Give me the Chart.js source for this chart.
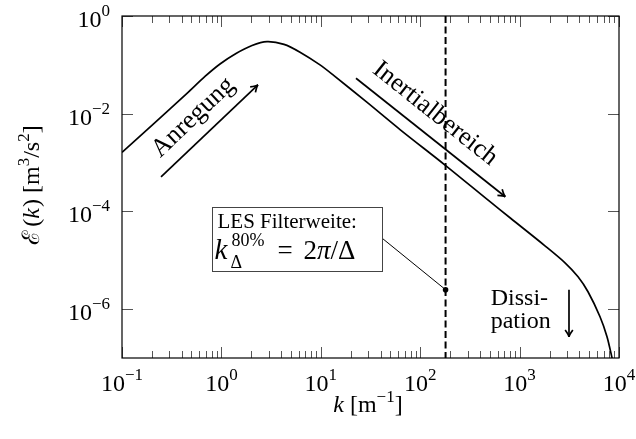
<!DOCTYPE html>
<html>
<head>
<meta charset="utf-8">
<script src="https://cdn.jsdelivr.net/npm/chart.js@4.4.1/dist/chart.umd.min.js"></script>
<style>
  html, body { margin: 0; padding: 0; background: #fff; }
  #wrap { width: 636px; height: 439px; }
</style>
</head>
<body>
<div id="wrap"><canvas id="spectrum" width="636" height="439"></canvas></div>
<script>
// Energy spectrum E(k)
const kValues = [0.1, 0.2051, 0.4508, 0.6839, 0.9683, 1.403, 2.032, 2.877, 4.266, 6.18, 9.817, 13.37, 28.84, 63.1,
  177.8, 489.8, 818, 1799, 2864, 3873, 4877, 6442, 7575, 8505, 9120];
const eValues = [1.62e-3, 6.05e-3, 0.026, 0.0579, 0.1042, 0.171, 0.2495, 0.2985, 0.263, 0.182, 0.100, 0.0617, 0.0174, 4.68e-3,
  8.9e-4, 1.66e-4, 7.16e-5, 1.98e-5, 8.89e-6, 4.6e-6, 2.27e-6, 7.0e-7, 2.73e-7, 1.01e-7, 5.2e-8];

// axes
const xMajorTicks = [0.1, 1, 10, 100, 1000, 10000];
const xTickExponents = ['\u22121', '0', '1', '2', '3', '4'];
const yMajorTicks = [1, 1e-2, 1e-4, 1e-6];
const yTickExponents = ['0', '\u22122', '\u22124', '\u22126'];
const xMin = 0.1, xMax = 1e4, yMin = 1e-7, yMax = 1;

// annotations, in data coordinates
const filterK = 180;
const filterDotE = 2.5e-6;
const excitationArrow = [[0.247, 5.1e-4], [2.33, 0.039]];
const excitationLabel = [0.52, 8.4e-3];
const inertialArrow = [[22.6, 0.0532], [718, 2.0e-4]];
const inertialLabel = [141, 0.0100];
const dissipationArrow = [[3140, 2.5e-6], [3140, 2.7e-7]];
const dissipationLabel = [512, 1.23e-6];
const filterBoxCorner = [0.804, 1.24e-4];

const SERIF = '"Liberation Serif", "DejaVu Serif", serif';

function fontOf(r) {
  return (r.italic ? 'italic ' : '') + r.size + 'px ' + SERIF;
}
function run(t, size, opts) {
  return Object.assign({ t: t, size: size, dy: 0 }, opts || {});
}
// draw a row of text pieces (superscripts etc.)
function drawRuns(ctx, runs, x, y, align) {
  let total = 0;
  runs.forEach(r => { ctx.font = fontOf(r); r.w = ctx.measureText(r.t).width + (r.gap || 0); total += r.w; });
  let cx = align === 'center' ? x - total / 2 : align === 'right' ? x - total : x;
  runs.forEach(r => {
    ctx.font = fontOf(r);
    ctx.fillText(r.t, cx, y + r.dy);
    cx += r.w;
  });
}

function arrow(ctx, x1, y1, x2, y2) {
  const a = Math.atan2(y2 - y1, x2 - x1);
  ctx.beginPath();
  ctx.moveTo(x1, y1);
  ctx.lineTo(x2, y2);
  ctx.stroke();
  ctx.beginPath();
  ctx.moveTo(x2 - 8 * Math.cos(a - 0.5), y2 - 8 * Math.sin(a - 0.5));
  ctx.quadraticCurveTo(x2 - 2 * Math.cos(a - 0.1), y2 - 2 * Math.sin(a - 0.1), x2, y2);
  ctx.quadraticCurveTo(x2 - 2 * Math.cos(a + 0.1), y2 - 2 * Math.sin(a + 0.1),
    x2 - 8 * Math.cos(a + 0.5), y2 - 8 * Math.sin(a + 0.5));
  ctx.stroke();
}

const framePlugin = {
  id: 'frame',
  afterDatasetsDraw(chart) {
    const ctx = chart.ctx;
    const area = chart.chartArea;
    const xs = chart.scales.x, ys = chart.scales.y;
    const px = v => xs.getPixelForValue(v);
    const py = v => ys.getPixelForValue(v);
    ctx.save();
    ctx.fillStyle = '#000';
    ctx.strokeStyle = '#000';

    // dashed filter line
    ctx.lineWidth = 2;
    ctx.setLineDash([7, 3.5]);
    ctx.beginPath();
    ctx.moveTo(px(filterK), area.top);
    ctx.lineTo(px(filterK), area.bottom);
    ctx.stroke();
    ctx.setLineDash([]);

    // tick marks, pointing inwards
    ctx.strokeStyle = '#555';
    ctx.lineWidth = 1;
    ctx.beginPath();
    for (let d = -1; d < 4; d++) {
      for (let m = 2; m <= 9; m++) {
        const x = Math.round(px(m * Math.pow(10, d))) + 0.5;
        ctx.moveTo(x, area.bottom); ctx.lineTo(x, area.bottom - 7);
        ctx.moveTo(x, area.top); ctx.lineTo(x, area.top + 7);
      }
    }
    xMajorTicks.forEach(v => {
      const x = Math.round(px(v)) + 0.5;
      ctx.moveTo(x, area.bottom); ctx.lineTo(x, area.bottom - 11);
      ctx.moveTo(x, area.top); ctx.lineTo(x, area.top + 11);
    });
    yMajorTicks.forEach(v => {
      const y = Math.round(py(v)) + 0.5;
      ctx.moveTo(area.left, y); ctx.lineTo(area.left + 11, y);
      ctx.moveTo(area.right, y); ctx.lineTo(area.right - 11, y);
    });
    ctx.stroke();

    // frame
    ctx.strokeStyle = '#000';
    ctx.lineWidth = 1.2;
    ctx.strokeRect(area.left, area.top, area.right - area.left, area.bottom - area.top);

    // tick labels
    ctx.textBaseline = 'alphabetic';
    xMajorTicks.forEach((v, i) => {
      drawRuns(ctx, [run('10', 24), run(xTickExponents[i], 17, { dy: -11 })], px(v), area.bottom + 33, 'center');
    });
    yMajorTicks.forEach((v, i) => {
      drawRuns(ctx, [run('10', 24), run(yTickExponents[i], 17, { dy: -11 })], area.left - 12, py(v) + 11, 'right');
    });

    // axis titles
    drawRuns(ctx, [run('k', 24, { italic: true, gap: 6 }), run('[m', 24), run('\u22121', 17, { dy: -10 }), run(']', 24)],
      368, 412, 'center');
    ctx.save();
    ctx.translate(39, 185);
    ctx.rotate(-Math.PI / 2);
    drawRuns(ctx, [run('\u2130', 24, { gap: 4 }), run('(', 24), run('k', 24, { italic: true, gap: 1 }), run(')', 24, { gap: 6 }),
      run('[m', 24), run('3', 17, { dy: -10 }), run('/s', 24), run('2', 17, { dy: -10 }), run(']', 24)], 0, 0, 'center');
    ctx.restore();

    // arrows with rotated labels
    ctx.lineWidth = 1.7;
    [[excitationArrow, excitationLabel, 'Anregung'], [inertialArrow, inertialLabel, 'Inertialbereich']].forEach(([a, lab, txt]) => {
      const x1 = px(a[0][0]), y1 = py(a[0][1]), x2 = px(a[1][0]), y2 = py(a[1][1]);
      arrow(ctx, x1, y1, x2, y2);
      ctx.save();
      ctx.translate(px(lab[0]), py(lab[1]));
      ctx.rotate(Math.atan2(y2 - y1, x2 - x1));
      ctx.font = '26px ' + SERIF;
      ctx.textAlign = 'center';
      ctx.textBaseline = 'middle';
      ctx.fillText(txt, 0, 0);
      ctx.restore();
    });
    arrow(ctx, px(dissipationArrow[0][0]), py(dissipationArrow[0][1]),
      px(dissipationArrow[1][0]), py(dissipationArrow[1][1]));
    ctx.font = '24px ' + SERIF;
    ctx.textAlign = 'left';
    ctx.fillText('Dissi-', px(dissipationLabel[0]), py(dissipationLabel[1]));
    ctx.fillText('pation', px(dissipationLabel[0]), py(dissipationLabel[1]) + 23);

    // filter width box with leader line
    const dotX = px(filterK), dotY = py(filterDotE);
    const bx = Math.round(px(filterBoxCorner[0])) + 0.5, by = Math.round(py(filterBoxCorner[1])) + 0.5;
    const bw = 170, bh = 64;
    ctx.lineWidth = 1;
    ctx.beginPath();
    ctx.moveTo(bx + bw, by + 31);
    ctx.lineTo(dotX, dotY);
    ctx.stroke();
    ctx.beginPath();
    ctx.arc(dotX, dotY, 2.8, 0, Math.PI * 2);
    ctx.fill();
    ctx.fillStyle = '#fff';
    ctx.fillRect(bx, by, bw, bh);
    ctx.strokeStyle = '#444';
    ctx.strokeRect(bx, by, bw, bh);
    ctx.fillStyle = '#000';
    ctx.textAlign = 'left';
    ctx.textBaseline = 'alphabetic';
    ctx.font = '21px ' + SERIF;
    ctx.fillText('LES Filterweite:', bx + 5, by + 20);
    drawRuns(ctx, [run('k', 29, { italic: true })], bx + 2, by + 51, 'left');
    drawRuns(ctx, [run('80%', 18)], bx + 19, by + 38, 'left');
    drawRuns(ctx, [run('\u0394', 18)], bx + 18, by + 60, 'left');
    drawRuns(ctx, [run('=', 27)], bx + 65, by + 51, 'left');
    drawRuns(ctx, [run('2', 27), run('\u03c0', 27, { italic: true }), run('/\u0394', 27)], bx + 91, by + 51, 'left');

    ctx.restore();
  }
};

new Chart(document.getElementById('spectrum'), {
  type: 'scatter',
  data: {
    datasets: [{
      data: kValues.map((k, i) => ({ x: k, y: eValues[i] })),
      showLine: true,
      borderColor: '#000',
      borderWidth: 1.7,
      pointRadius: 0,
      tension: 0.3,
      fill: false,
      clip: 0
    }]
  },
  options: {
    responsive: false,
    animation: false,
    devicePixelRatio: 1,
    layout: { padding: { left: 122, right: 17, top: 16, bottom: 81 } },
    plugins: { legend: { display: false }, tooltip: { enabled: false } },
    scales: {
      x: { type: 'logarithmic', min: xMin, max: xMax, display: false },
      y: { type: 'logarithmic', min: yMin, max: yMax, display: false }
    }
  },
  plugins: [framePlugin]
});
</script>
</body>
</html>
